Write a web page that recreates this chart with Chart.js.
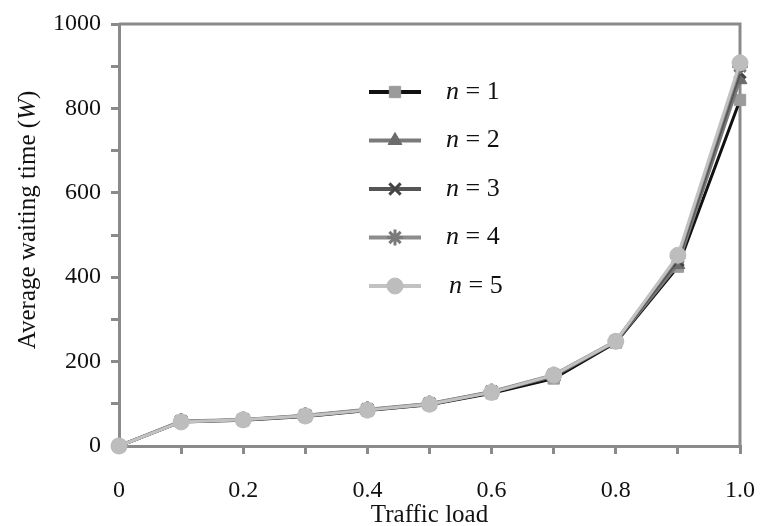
<!DOCTYPE html>
<html>
<head>
<meta charset="utf-8">
<script src="https://cdn.jsdelivr.net/npm/chart.js@4/dist/chart.umd.min.js"></script>
<style>
    html, body { margin: 0; padding: 0; background: #fff; }
    #wrap { width: 764px; height: 526px; }
</style>
</head>
<body>
<div id="wrap"><canvas id="waitChart"></canvas></div>
<script>
// Traffic load on the x axis
const loads = [0, 0.1, 0.2, 0.3, 0.4, 0.5, 0.6, 0.7, 0.8, 0.9, 1.0];

// Average waiting time per n
const waitN1 = [0, 57, 61, 70, 84, 98, 125, 160, 245, 425, 820];
const waitN2 = [0, 58, 62, 71, 85, 99, 127, 165, 247, 430, 868];
const waitN3 = [0, 58, 62, 72, 86, 100, 128, 167, 248, 440, 885];
const waitN4 = [0, 59, 63, 73, 87, 101, 129, 169, 249, 448, 900];
const waitN5 = [0, 57, 62, 71, 85, 99, 127, 168, 248, 452, 908];

const seriesLabels = ["1", "2", "3", "4", "5"];

const axisColor = "#8a8a8a";
const serif = "'Liberation Serif', 'Times New Roman', serif";

const toPoints = (vals) => loads.map((x, i) => ({ x: x, y: vals[i] }));

const makeSet = (label, vals, lineColor, markColor, style, order) => ({
    label: label,
    data: toPoints(vals),
    borderColor: lineColor,
    backgroundColor: markColor,
    borderWidth: 3,
    pointStyle: style,
    pointRadius: 8,
    pointBackgroundColor: markColor,
    pointBorderColor: markColor,
    pointBorderWidth: style === "crossRot" || style === "star" ? 3 : 1,
    tension: 0,
    clip: false,
    order: order
});

// Frame on top and right of the plot area
const framePlugin = {
    id: "frame",
    beforeDatasetsDraw(chart) {
        const { ctx, chartArea: a } = chart;
        ctx.save();
        ctx.strokeStyle = axisColor;
        ctx.lineWidth = 3;
        ctx.beginPath();
        ctx.moveTo(a.left, a.top);
        ctx.lineTo(a.right, a.top);
        ctx.lineTo(a.right, a.bottom);
        ctx.stroke();
        ctx.restore();
    }
};

// Y axis title with italic W
const yTitlePlugin = {
    id: "yTitle",
    afterDraw(chart) {
        const { ctx, chartArea: a } = chart;
        const cy = (a.top + a.bottom) / 2 - 15;
        ctx.save();
        ctx.translate(28, cy);
        ctx.rotate(-Math.PI / 2);
        ctx.fillStyle = "#111";
        ctx.textBaseline = "middle";
        const parts = [
            ["Average waiting time (", "25px " + serif],
            ["W", "italic 25px " + serif],
            [")", "25px " + serif]
        ];
        let total = 0;
        parts.forEach(p => { ctx.font = p[1]; total += ctx.measureText(p[0]).width; });
        let x = -total / 2;
        parts.forEach(p => {
            ctx.font = p[1];
            ctx.fillText(p[0], x, 0);
            x += ctx.measureText(p[0]).width;
        });
        ctx.restore();
    }
};

// Legend drawn inside the plot area
const legendPlugin = {
    id: "innerLegend",
    afterDraw(chart) {
        const { ctx, chartArea: a } = chart;
        const x0 = a.left + 250;
        const x1 = a.left + 302;
        const textX = a.left + 327;
        let y = a.top + 68;
        ctx.save();
        chart.data.datasets.forEach((ds) => {
            ctx.strokeStyle = ds.borderColor;
            ctx.lineWidth = 4;
            ctx.beginPath();
            ctx.moveTo(x0, y);
            ctx.lineTo(x1, y);
            ctx.stroke();
            ctx.fillStyle = ds.pointBackgroundColor;
            ctx.strokeStyle = ds.pointBorderColor;
            ctx.lineWidth = ds.pointBorderWidth;
            Chart.helpers.drawPoint(ctx, {
                pointStyle: ds.pointStyle,
                radius: 8,
                rotation: 0,
                borderWidth: ds.pointBorderWidth
            }, (x0 + x1) / 2, y);

            ctx.fillStyle = "#111";
            ctx.textBaseline = "middle";
            let tx = textX + (ds.label === "5" ? 3 : 0);
            ctx.font = "italic 26px " + serif;
            ctx.fillText("n", tx, y);
            tx += ctx.measureText("n").width;
            ctx.font = "26px " + serif;
            ctx.fillText(" = " + ds.label, tx, y);
            y += 48.5;
        });
        ctx.restore();
    }
};

const tickFont = { family: serif, size: 24, lineHeight: 1 };

// Let layout padding alone decide the plot edges
const noEdgePadding = (scale) => {
    scale.paddingLeft = 0;
    scale.paddingRight = 0;
    scale.paddingTop = 0;
    scale.paddingBottom = 0;
};

new Chart(document.getElementById("waitChart").getContext("2d"), {
    type: "line",
    data: {
        datasets: [
            makeSet(seriesLabels[0], waitN1, "#111111", "#9b9b9b", "rect", 5),
            makeSet(seriesLabels[1], waitN2, "#7a7a7a", "#6c6c6c", "triangle", 4),
            makeSet(seriesLabels[2], waitN3, "#555555", "#444444", "crossRot", 3),
            makeSet(seriesLabels[3], waitN4, "#8c8c8c", "#7a7a7a", "star", 2),
            makeSet(seriesLabels[4], waitN5, "#c2c2c2", "#bdbdbd", "circle", 1)
        ]
    },
    options: {
        responsive: true,
        maintainAspectRatio: false,
        animation: false,
        layout: {
            padding: { left: 43, right: 24, top: 24, bottom: 0 }
        },
        plugins: {
            legend: { display: false },
            tooltip: { enabled: false }
        },
        scales: {
            x: {
                type: "linear",
                min: 0,
                max: 1,
                afterFit: noEdgePadding,
                ticks: {
                    stepSize: 0.1,
                    color: "#111",
                    font: tickFont,
                    padding: 25,
                    maxRotation: 0,
                    autoSkip: false,
                    callback: (v) => {
                        const k = Math.round(v * 10);
                        if (k % 2 !== 0) return "";
                        return k === 0 ? "0" : (k / 10).toFixed(1);
                    }
                },
                grid: {
                    drawOnChartArea: false,
                    drawTicks: true,
                    tickLength: 8,
                    color: axisColor,
                    lineWidth: 3
                },
                border: { display: true, color: axisColor, width: 3 },
                title: {
                    display: true,
                    text: "Traffic load",
                    color: "#111",
                    font: { family: serif, size: 25, lineHeight: 1 },
                    padding: { top: -25, bottom: -2 }
                }
            },
            y: {
                min: 0,
                max: 1000,
                afterFit: noEdgePadding,
                ticks: {
                    stepSize: 100,
                    color: "#111",
                    font: tickFont,
                    padding: 10,
                    autoSkip: false,
                    callback: (v) => (Math.round(v) % 200 === 0 ? String(v) : "")
                },
                grid: {
                    drawOnChartArea: false,
                    drawTicks: true,
                    tickLength: 8,
                    color: axisColor,
                    lineWidth: 3
                },
                border: { display: true, color: axisColor, width: 3 }
            }
        }
    },
    plugins: [framePlugin, yTitlePlugin, legendPlugin]
});
</script>
</body>
</html>
